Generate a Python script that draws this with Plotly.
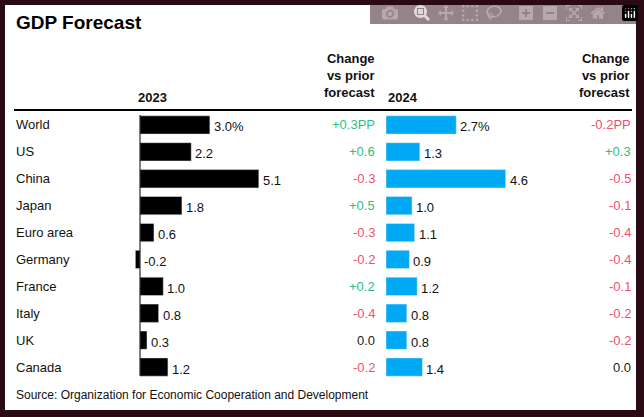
import plotly.graph_objects as go
from plotly.subplots import make_subplots

W, H = 644, 417

countries = ["World", "US", "China", "Japan", "Euro area", "Germany", "France", "Italy", "UK", "Canada"]
gdp_2023 = [3.0, 2.2, 5.1, 1.8, 0.6, -0.2, 1.0, 0.8, 0.3, 1.2]
gdp_2024 = [2.7, 1.3, 4.6, 1.0, 1.1, 0.9, 1.2, 0.8, 0.8, 1.4]
labels_2023 = ["3.0%", "2.2", "5.1", "1.8", "0.6", "-0.2", "1.0", "0.8", "0.3", "1.2"]
labels_2024 = ["2.7%", "1.3", "4.6", "1.0", "1.1", "0.9", "1.2", "0.8", "0.8", "1.4"]
chg_2023 = ["+0.3PP", "+0.6", "-0.3", "+0.5", "-0.3", "-0.2", "+0.2", "-0.4", "0.0", "-0.2"]
chg_2024 = ["-0.2PP", "+0.3", "-0.5", "-0.1", "-0.4", "-0.4", "-0.1", "-0.2", "-0.2", "0.0"]

GREEN, RED, GREY = "#2cbf80", "#f0506e", "#222222"
FONT = "Liberation Sans, Arial, sans-serif"


def px(x):
    return x / W


def py(y):
    return 1 - y / H


def chg_color(s):
    if s.startswith("+"):
        return GREEN
    if s.startswith("-"):
        return RED
    return GREY


fig = make_subplots(rows=1, cols=2, shared_yaxes=True)
fig.add_trace(go.Bar(y=countries, x=gdp_2023, orientation="h", marker_color="#000000",
                     width=0.68), row=1, col=1)
fig.add_trace(go.Bar(y=countries, x=gdp_2024, orientation="h", marker_color="#00a9f4",
                     width=0.68), row=1, col=2)

ydom = [py(380.5), py(111.5)]
fig.update_layout(
    width=W, height=H, margin=dict(l=0, r=0, t=0, b=0),
    paper_bgcolor="#2a0a14", plot_bgcolor="rgba(0,0,0,0)",
    showlegend=False, font=dict(family=FONT, size=13, color="#111"),
    xaxis=dict(domain=[px(135), px(270)], range=[-0.2145, 5.58], visible=False),
    xaxis2=dict(domain=[px(386), px(520)], range=[0, 5.15], visible=False),
    yaxis=dict(domain=ydom, autorange="reversed", visible=False),
    yaxis2=dict(domain=ydom, autorange="reversed", visible=False),
)

shapes = [
    dict(type="rect", xref="paper", yref="paper", x0=px(5), x1=px(636), y0=py(410), y1=py(5),
         fillcolor="white", line_width=0, layer="below"),
    dict(type="line", xref="paper", yref="paper", x0=px(14), x1=px(632), y0=py(110), y1=py(110),
         line=dict(color="black", width=2)),
    dict(type="line", xref="x", yref="paper", x0=0, x1=0, y0=py(376), y1=py(115),
         line=dict(color="black", width=1)),
]
fig.update_layout(shapes=shapes)

ann = [
    dict(text="<b>GDP Forecast</b>", x=px(14), y=py(22), font=dict(size=19, color="black")),
    dict(text="<b>2023</b>", x=px(136), y=py(97), font=dict(size=13)),
    dict(text="<b>Change<br>vs prior<br>forecast</b>", x=px(377), y=py(76), xanchor="right",
         align="right", font=dict(size=13)),
    dict(text="<b>2024</b>", x=px(386), y=py(97), font=dict(size=13)),
    dict(text="<b>Change<br>vs prior<br>forecast</b>", x=px(632), y=py(76), xanchor="right",
         align="right", font=dict(size=13)),
    dict(text="Source: Organization for Economic Cooperation and Development", x=px(14),
         y=py(395), font=dict(size=12)),
]
for a in ann:
    a.update(xref="paper", yref="paper", showarrow=False, yanchor="middle")
    a.setdefault("xanchor", "left")
fig.update_layout(annotations=ann)

for i, c in enumerate(countries):
    fig.add_annotation(text=c, xref="paper", yref="y", x=px(14), y=c, xanchor="left",
                       showarrow=False, font=dict(size=13))
    fig.add_annotation(text=labels_2023[i], xref="x", yref="y", x=max(gdp_2023[i], 0), y=c,
                       xanchor="left", xshift=2, yshift=-2, showarrow=False)
    fig.add_annotation(text=labels_2024[i], xref="x2", yref="y2", x=gdp_2024[i], y=c,
                       xanchor="left", xshift=2, yshift=-2, showarrow=False)
    fig.add_annotation(text=chg_2023[i], xref="paper", yref="y", x=px(377), y=c, xanchor="right",
                       showarrow=False, font=dict(color=chg_color(chg_2023[i])))
    fig.add_annotation(text=chg_2024[i], xref="paper", yref="y", x=px(633), y=c, xanchor="right",
                       showarrow=False, font=dict(color=chg_color(chg_2024[i])))

fig.write_html("out.html",
               post_script="document.body.style.margin='0';document.body.style.overflow='hidden';")
